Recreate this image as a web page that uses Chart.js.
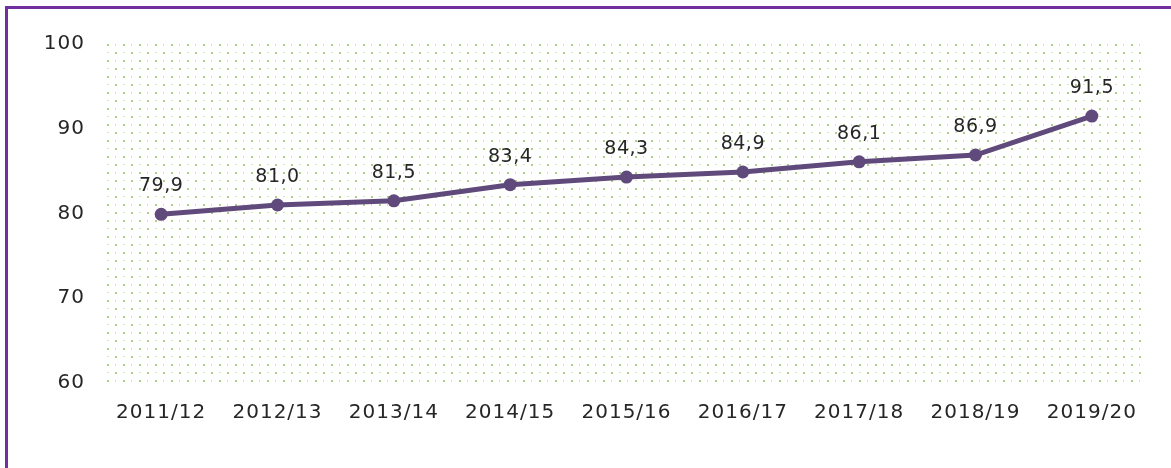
<!DOCTYPE html>
<html>
<head>
<meta charset="utf-8">
<script src="https://cdn.jsdelivr.net/npm/chart.js@4"></script>
<style>
  html, body { margin: 0; padding: 0; background: #fff; }
  #wrap { position: relative; width: 1171px; height: 468px; overflow: hidden; }
  #frame { position: absolute; left: 5px; top: 6px; width: 1300px; height: 600px;
           border-left: 3px solid #7030A0; border-top: 3px solid #7030A0; }
  #c { position: absolute; left: 0; top: 0; }
</style>
</head>
<body>
<div id="wrap">
  <div id="frame"></div>
  <canvas id="c" width="1171" height="468"></canvas>
</div>
<script>
// valores
const years = ["2011/12", "2012/13", "2013/14", "2014/15", "2015/16", "2016/17", "2017/18", "2018/19", "2019/20"];
const values = [79.9, 81.0, 81.5, 83.4, 84.3, 84.9, 86.1, 86.9, 91.5];
const yTicks = [60, 70, 80, 90, 100];

const TEXT = "#262626";
const LINE = "#604A7B";
const FONT = "'DejaVu Sans', Verdana, sans-serif";

// fundo pontilhado verde dentro da área do gráfico
function dotPattern(ctx) {
  const tile = document.createElement("canvas");
  tile.width = 16;
  tile.height = 16;
  const t = tile.getContext("2d");
  t.fillStyle = "#abd080";
  t.fillRect(0, 0, 2, 2);
  t.fillRect(8, 8, 2, 2);
  t.fillStyle = "#d3e8b8";
  t.fillRect(8, 0, 1, 2);
  t.fillRect(0, 8, 2, 1);
  return ctx.createPattern(tile, "repeat");
}

const dottedBg = {
  id: "dottedBg",
  beforeDraw(chart) {
    const { ctx, chartArea: a } = chart;
    ctx.save();
    ctx.fillStyle = dotPattern(ctx);
    ctx.translate(a.left + 4, a.top);
    ctx.fillRect(0, 0, a.right - a.left - 10, a.bottom - a.top);
    ctx.restore();
    // texto um pouco mais largo, estilo Verdana
    ctx.letterSpacing = "1px";
  },
};

// rótulos de valor com vírgula decimal
const valueLabels = {
  id: "valueLabels",
  afterDatasetsDraw(chart) {
    const { ctx } = chart;
    const meta = chart.getDatasetMeta(0);
    ctx.save();
    ctx.font = "19px " + FONT;
    ctx.letterSpacing = "0.5px";
    ctx.fillStyle = TEXT;
    ctx.textAlign = "center";
    ctx.textBaseline = "middle";
    meta.data.forEach((pt, i) => {
      ctx.fillText(values[i].toFixed(1).replace(".", ","), pt.x, pt.y - 28);
    });
    ctx.restore();
  },
};

new Chart(document.getElementById("c"), {
  type: "line",
  data: {
    labels: years,
    datasets: [{
      data: values,
      borderColor: LINE,
      backgroundColor: LINE,
      borderWidth: 5,
      pointRadius: 6.5,
      pointBackgroundColor: LINE,
      pointBorderWidth: 0,
      tension: 0,
    }],
  },
  plugins: [dottedBg, valueLabels],
  options: {
    responsive: false,
    animation: false,
    layout: { padding: { top: 44, right: 21, bottom: 0, left: 0 } },
    plugins: { legend: { display: false }, tooltip: { enabled: false } },
    scales: {
      x: {
        offset: true,
        grid: { display: false, drawTicks: false },
        border: { display: false },
        ticks: { color: TEXT, font: { family: FONT, size: 20 }, padding: 18, maxRotation: 0 },
        afterFit(s) { s.height = 85; },
      },
      y: {
        min: 60,
        max: 100,
        afterBuildTicks(s) { s.ticks = yTicks.map((v) => ({ value: v })); },
        grid: { display: false, drawTicks: false },
        border: { display: false },
        ticks: { color: TEXT, font: { family: FONT, size: 20 }, padding: 18 },
        afterFit(s) { s.width = 103; },
      },
    },
  },
});
</script>
</body>
</html>
